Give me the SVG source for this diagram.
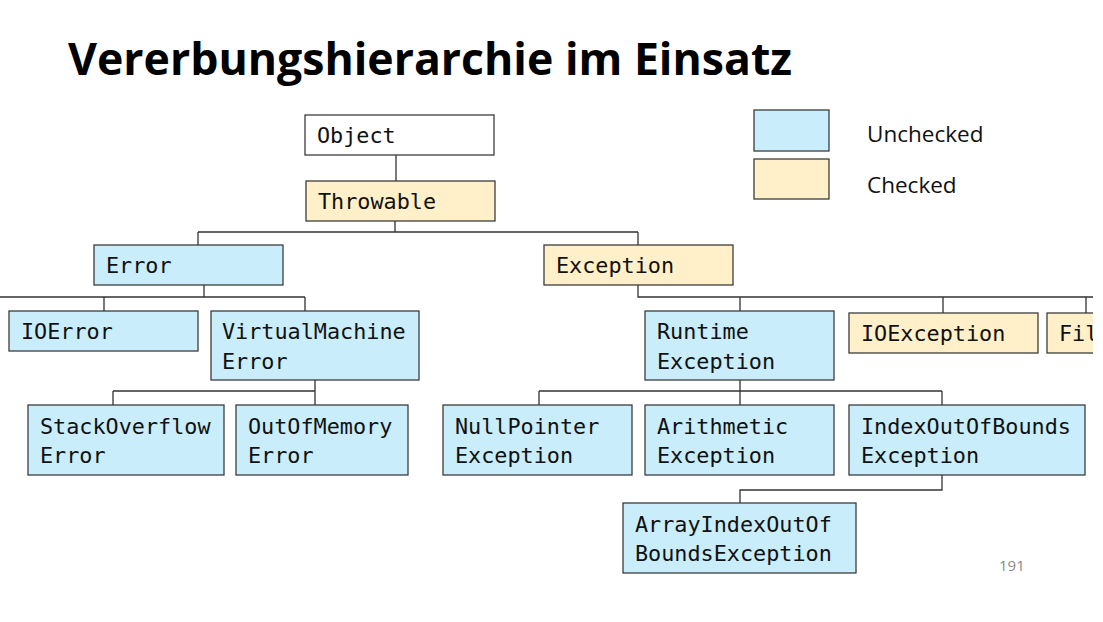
<svg xmlns="http://www.w3.org/2000/svg" width="1103" height="622" viewBox="0 0 1103 622">
  <style>
    .box { stroke: #3c3c3c; stroke-width: 1.3; }
    .plain { fill: #ffffff; }
    .unchecked { fill: #c9edfb; }
    .checked { fill: #fff0c9; }
    .code { font-family: "DejaVu Sans Mono", "Liberation Mono", monospace; font-size: 21.8px; fill: #111111; }
    .legend { font-family: "Open Sans", "Noto Sans", "Liberation Sans", sans-serif; font-size: 22.5px; fill: #111111; }
    .wire { fill: none; stroke: #333333; stroke-width: 1.3; }
  </style>
  <defs>
    <clipPath id="page">
      <rect x="0" y="0" width="1093" height="622"/>
    </clipPath>
  </defs>
  <rect width="1103" height="622" fill="#ffffff"/>

  <text x="68" y="75" font-family="Open Sans, Liberation Sans, sans-serif" font-weight="bold" font-size="44" textLength="724" lengthAdjust="spacingAndGlyphs" fill="#000000">Vererbungshierarchie im Einsatz</text>

  <!-- legend -->
  <g id="legend">
    <rect class="box unchecked" x="754" y="110" width="75" height="41"/>
    <rect class="box checked" x="754" y="159" width="75" height="40"/>
    <text class="legend" x="867" y="142">Unchecked</text>
    <text class="legend" x="867" y="193">Checked</text>
  </g>

  <g clip-path="url(#page)">
    <!-- inheritance connectors -->
    <g id="connectors" class="wire">
      <path d="M396 155 V181"/>
      <path d="M395 221 V232 M198 232 H638 M198 232 V245 M638 232 V245"/>
      <path d="M204 285 V297 M0 297 H305 M104 297 V311 M305 297 V311"/>
      <path d="M638 285 V297 H1103 M740 297 V311 M943 297 V313 M1086 297 V313"/>
      <path d="M315 380 V391 M113 391 H315 M113 391 V405 M315 391 V405"/>
      <path d="M740 380 V391 M539 391 H942 M539 391 V405 M740 391 V405 M942 391 V405"/>
      <path d="M942 475 V490 H740 V503"/>
    </g>

    <g id="object">
      <rect class="box plain" x="305" y="115" width="189" height="40"/>
      <text class="code" x="317" y="143">Object</text>
    </g>
    <g id="throwable">
      <rect class="box checked" x="306" y="181" width="189" height="40"/>
      <text class="code" x="318" y="209">Throwable</text>
    </g>
    <g id="error">
      <rect class="box unchecked" x="94" y="245" width="189" height="40"/>
      <text class="code" x="106" y="273">Error</text>
    </g>
    <g id="exception">
      <rect class="box checked" x="544" y="245" width="189" height="40"/>
      <text class="code" x="556" y="273">Exception</text>
    </g>
    <g id="ioerror">
      <rect class="box unchecked" x="9" y="311" width="189" height="40"/>
      <text class="code" x="21" y="339">IOError</text>
    </g>
    <g id="virtualmachineerror">
      <rect class="box unchecked" x="211" y="311" width="208" height="69"/>
      <text class="code" x="222" y="339">VirtualMachine</text>
      <text class="code" x="222" y="369">Error</text>
    </g>
    <g id="runtimeexception">
      <rect class="box unchecked" x="645" y="311" width="189" height="69"/>
      <text class="code" x="657" y="339">Runtime</text>
      <text class="code" x="657" y="369">Exception</text>
    </g>
    <g id="ioexception">
      <rect class="box checked" x="849" y="313" width="189" height="40"/>
      <text class="code" x="861" y="341">IOException</text>
    </g>
    <!-- box running past the right page edge -->
    <g id="fileexception">
      <rect class="box checked" x="1047" y="313" width="189" height="40"/>
      <text class="code" x="1059" y="341">Fil</text>
    </g>
    <g id="stackoverflowerror">
      <rect class="box unchecked" x="28" y="405" width="196" height="70"/>
      <text class="code" x="40" y="434">StackOverflow</text>
      <text class="code" x="40" y="463">Error</text>
    </g>
    <g id="outofmemoryerror">
      <rect class="box unchecked" x="236" y="405" width="172" height="70"/>
      <text class="code" x="248" y="434">OutOfMemory</text>
      <text class="code" x="248" y="463">Error</text>
    </g>
    <g id="nullpointerexception">
      <rect class="box unchecked" x="443" y="405" width="189" height="70"/>
      <text class="code" x="455" y="434">NullPointer</text>
      <text class="code" x="455" y="463">Exception</text>
    </g>
    <g id="arithmeticexception">
      <rect class="box unchecked" x="645" y="405" width="189" height="70"/>
      <text class="code" x="657" y="434">Arithmetic</text>
      <text class="code" x="657" y="463">Exception</text>
    </g>
    <g id="indexoutofboundsexception">
      <rect class="box unchecked" x="849" y="405" width="236" height="70"/>
      <text class="code" x="861" y="434">IndexOutOfBounds</text>
      <text class="code" x="861" y="463">Exception</text>
    </g>
    <g id="arrayindexoutofboundsexception">
      <rect class="box unchecked" x="623" y="503" width="233" height="70"/>
      <text class="code" x="635" y="532">ArrayIndexOutOf</text>
      <text class="code" x="635" y="561">BoundsException</text>
    </g>
  </g>

  <text x="999" y="571" font-family="Open Sans, Liberation Sans, sans-serif" font-size="15" fill="#8a8a8a">191</text>
</svg>
